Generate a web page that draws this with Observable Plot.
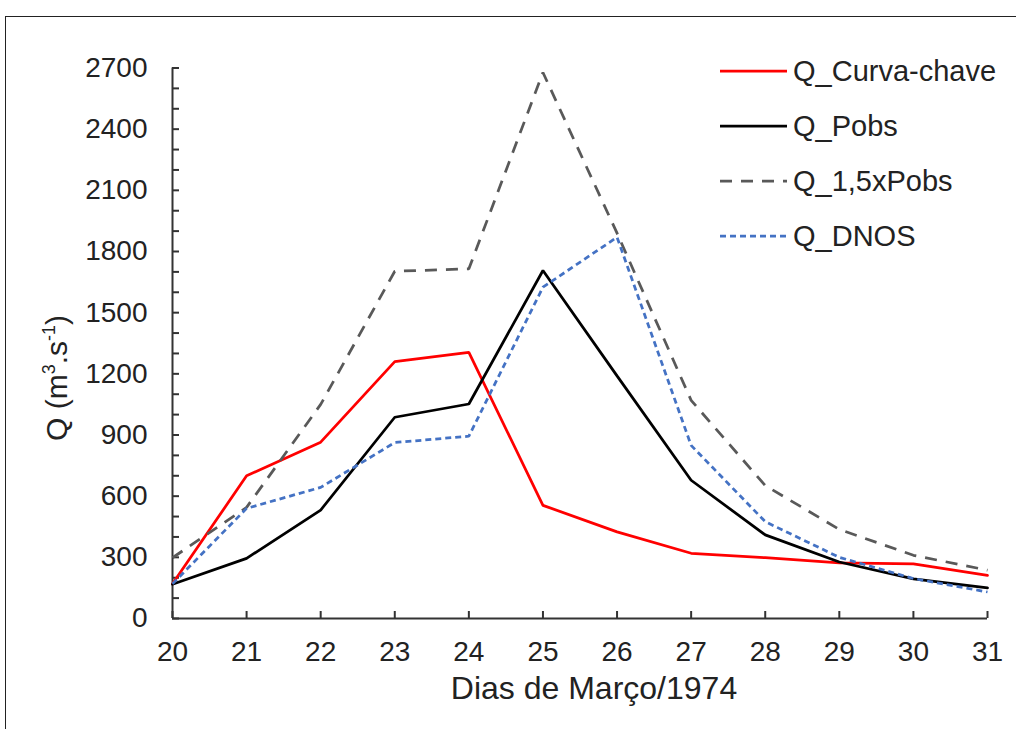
<!DOCTYPE html>
<html>
<head>
<meta charset="utf-8">
<script src="https://cdn.jsdelivr.net/npm/d3@7"></script>
<script src="https://cdn.jsdelivr.net/npm/@observablehq/plot@0.6"></script>
<style>
  html, body { margin: 0; padding: 0; background: #fff; overflow: hidden; }
  #wrap { position: relative; width: 1016px; height: 729px; font-family: "Liberation Sans", Arial, sans-serif; }
  #frame { position: absolute; left: 5px; top: 16px; width: 1100px; height: 800px; border: 1.5px solid #222; pointer-events: none; }
  #legend { position: absolute; left: 720px; top: 50px; }
  .item { position: absolute; left: 0; height: 42px; display: flex; align-items: center; white-space: nowrap; font-size: 29px; color: #222; }
  .item svg { margin-right: 6px; }
  #ytitle { position: absolute; left: 57px; top: 378px; transform: translate(-50%, -50%) rotate(-90deg); white-space: nowrap; font-size: 30px; color: #222; line-height: 1; }
  #ytitle sup { font-size: 0.6em; vertical-align: 0.65em; line-height: 0; }
</style>
</head>
<body>
<div id="wrap"><div id="chart"></div><div id="legend"></div><div id="ytitle"></div><div id="frame"></div></div>
<script>
// ---- data ----
const days = [20, 21, 22, 23, 24, 25, 26, 27, 28, 29, 30, 31];
const qCurvaChave = [170, 700, 865, 1260, 1305, 555, 425, 320, 298, 273, 268, 212];
const qPobs       = [168, 295, 532, 987, 1052, 1707, 1190, 678, 410, 277, 194, 150];
const q15xPobs    = [298, 545, 1050, 1703, 1715, 2678, 1890, 1070, 652, 437, 310, 237];
const qDNOS       = [170, 540, 643, 863, 894, 1625, 1870, 849, 475, 300, 196, 130];
const seriesNames = ["Q_Curva-chave", "Q_Pobs", "Q_1,5xPobs", "Q_DNOS"];
const yLabelTicks = [0, 300, 600, 900, 1200, 1500, 1800, 2100, 2400, 2700];
const yMinorTicks = d3.range(0, 2701, 100);
const xTitle = "Dias de Março/1974";
const yTitleHTML = "Q (m<sup>3</sup>.s<sup>-1</sup>)";

const seriesValues = [qCurvaChave, qPobs, q15xPobs, qDNOS];
const styles = [
  {stroke: "#ff0000", dash: null, width: 2.75},
  {stroke: "#000000", dash: null, width: 2.75},
  {stroke: "#595959", dash: "12,9", width: 2.75},
  {stroke: "#4472c4", dash: "6,4", width: 2.75}
];
const rows = seriesNames.flatMap((name, i) => days.map((d, j) => ({series: name, day: d, q: seriesValues[i][j]})));

const axisColor = "#333";
const font = "Liberation Sans, Arial, sans-serif";

const lineMarks = seriesNames.map((name, i) => Plot.line(rows.filter(r => r.series === name), {
  x: "day", y: "q",
  stroke: styles[i].stroke,
  strokeWidth: styles[i].width,
  strokeDasharray: styles[i].dash,
  strokeLinecap: styles[i].dash ? "butt" : "round",
  strokeLinejoin: "miter"
}));

const chart = Plot.plot({
  width: 1016,
  height: 729,
  marginLeft: 172,
  marginRight: 29,
  marginTop: 67.5,
  marginBottom: 111,
  style: {fontFamily: font, fontSize: "28px", color: "#222", background: "transparent"},
  x: {domain: [20, 31], axis: null},
  y: {domain: [0, 2700], axis: null},
  marks: [
    // tick marks (inward)
    Plot.axisY(yMinorTicks, {anchor: "left", tickSize: 7, dx: 7, tickFormat: () => "", label: null, stroke: axisColor, strokeWidth: 2}),
    Plot.axisX(days, {anchor: "bottom", tickSize: 7, dy: -7, tickFormat: () => "", label: null, stroke: axisColor, strokeWidth: 2}),
    // tick labels
    Plot.axisY(yLabelTicks, {anchor: "left", tickSize: 0, tickPadding: 25, tickFormat: d3.format("d"), label: null, fill: "#222", fontSize: 28}),
    Plot.axisX(days, {anchor: "bottom", tickSize: 0, tickPadding: 23, tickFormat: d3.format("d"), label: null, fill: "#222", fontSize: 28}),
    // axis lines
    Plot.ruleX([20], {y1: 0, y2: 2700, stroke: axisColor, strokeWidth: 2}),
    Plot.ruleY([0], {x1: 20, x2: 31, stroke: axisColor, strokeWidth: 2}),
    ...lineMarks,
    // x axis title
    Plot.text([xTitle], {frameAnchor: "bottom", dx: 14, dy: 80, fontSize: 32, fill: "#222"})
  ]
});
document.getElementById("chart").appendChild(chart);
document.getElementById("ytitle").innerHTML = yTitleHTML;

// legend
const legend = document.getElementById("legend");
const rowY = [0, 55, 110, 165];
seriesNames.forEach((name, i) => {
  const item = document.createElement("div");
  item.className = "item";
  item.style.top = rowY[i] + "px";
  const s = styles[i];
  item.innerHTML = `<svg width="67" height="10"><line x1="0" y1="5" x2="67" y2="5" stroke="${s.stroke}" stroke-width="${s.width}" ${s.dash ? `stroke-dasharray="${s.dash}"` : ""}/></svg><span>${name}</span>`;
  legend.appendChild(item);
});
</script>
</body>
</html>
